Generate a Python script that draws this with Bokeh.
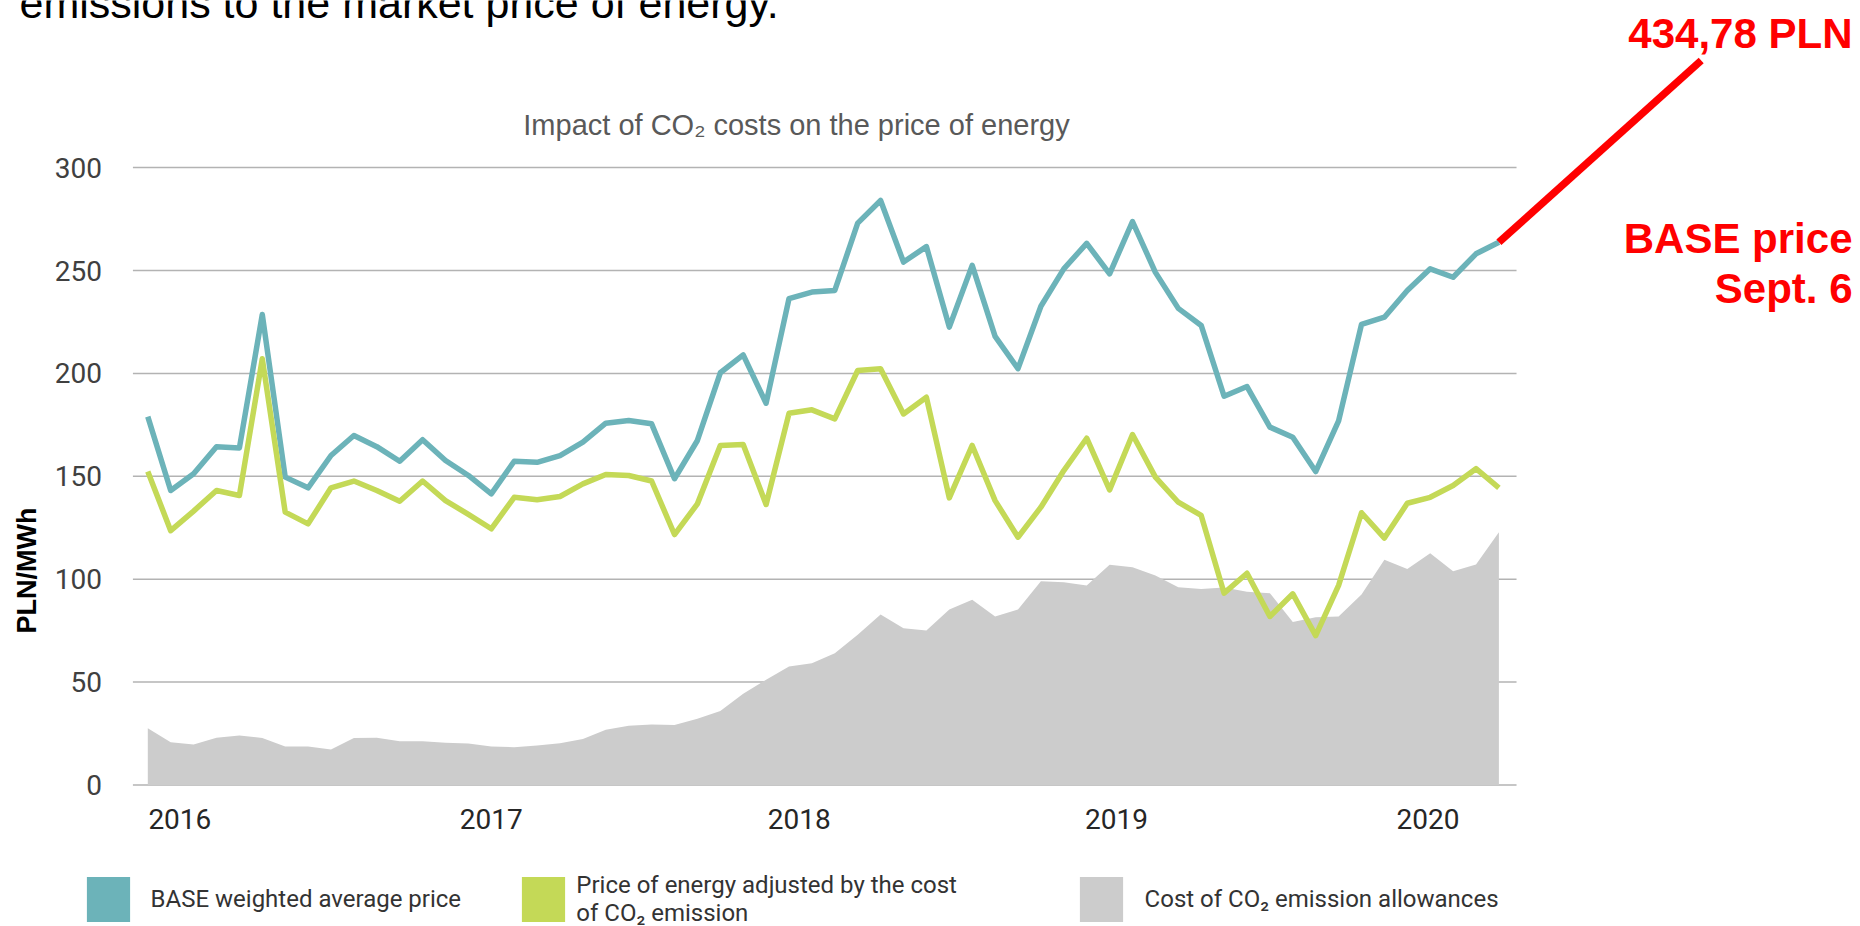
import math
from bokeh.plotting import figure
from bokeh.models import Range1d, FixedTicker, Label, Legend, LegendItem, ColumnDataSource
from bokeh.embed import file_html
from bokeh.resources import INLINE

# ---------------- data ----------------
base_price = [179.0, 143.1, 151.2, 164.4, 163.8, 228.6, 149.6, 144.4, 160.1, 169.8,
              164.4, 157.3, 167.8, 157.7, 150.4, 141.5, 157.3, 156.8, 160.1, 166.6,
              175.8, 177.1, 175.5, 148.8, 167.4, 200.3, 209.0, 185.5, 236.3, 239.5,
              240.3, 273.0, 284.0, 254.1, 261.6, 222.5, 252.5, 218.0, 202.3, 232.6,
              250.8, 263.2, 248.4, 273.8, 249.1, 231.6, 223.3, 188.9, 193.6, 173.9,
              169.0, 152.3, 176.9, 223.8, 227.3, 240.3, 250.8, 246.7, 258.1, 263.7]
adjusted_price = [152.3, 123.6, 133.1, 143.1, 140.7, 207.1, 132.6, 126.9, 144.4, 147.7,
                  143.1, 137.9, 147.7, 138.2, 131.5, 124.5, 139.8, 138.6, 140.2, 146.3,
                  150.9, 150.4, 147.7, 121.7, 136.6, 165.0, 165.5, 136.3, 180.6, 182.3,
                  177.9, 201.4, 202.3, 180.3, 188.4, 139.5, 165.0, 138.2, 120.4, 135.0,
                  152.8, 168.5, 143.4, 170.3, 149.6, 137.4, 131.0, 93.2, 102.9, 81.9,
                  92.9, 72.6, 97.0, 132.3, 120.0, 136.9, 139.8, 145.5, 153.7, 144.4]
co2_cost = [27.6, 20.8, 19.7, 22.9, 24.1, 22.8, 18.7, 18.7, 17.2, 22.8,
            22.9, 21.3, 21.3, 20.5, 20.2, 18.7, 18.4, 19.2, 20.3, 22.4,
            26.8, 28.8, 29.4, 29.2, 32.2, 35.9, 44.3, 51.1, 57.6, 59.2,
            64.0, 73.0, 82.8, 76.2, 75.1, 85.3, 90.0, 81.9, 85.3, 99.0,
            98.5, 96.9, 107.0, 105.8, 101.8, 96.1, 95.2, 96.0, 93.9, 93.2,
            79.2, 81.5, 81.9, 92.6, 109.4, 105.0, 112.6, 103.9, 107.1, 122.8]
year_labels = ["2016", "2017", "2018", "2019", "2020"]
year_tick_pos = [1.4, 15.0, 28.45, 42.3, 55.9]
y_ticks = [0, 50, 100, 150, 200, 250, 300]

series_names = ["BASE weighted average price",
                "Price of energy adjusted by the cost\nof CO\u2082 emission",
                "Cost of CO\u2082 emission allowances"]
chart_title = "Impact of CO\u2082 costs on the price of energy"
heading_text = "emissions to the market price of energy."
y_label = "PLN/MWh"
callout_value = "434,78 PLN"
callout_lines = ["BASE price", "Sept. 6"]

idx = list(range(len(base_price)))

# ---------------- styling / layout ----------------
TEAL = "#6cb3b9"
GREEN = "#c4d957"
GREY = "#cccccc"
RED = "#ff0000"
GRID = "#b3b3b3"

W, H = 1856, 926
PX_IDX = 22.9              # px per data point
PX_VAL = 2.058             # px per PLN/MWh
FIRST_PX = 147.3           # canvas x of the first point
ZERO_PX = 784.5            # canvas y of value 0
X0 = (0 - FIRST_PX) / PX_IDX
X1 = X0 + W / PX_IDX
Y1 = ZERO_PX / PX_VAL
Y0 = Y1 - H / PX_VAL
GRID_START = idx[0] - 0.65
GRID_END = idx[-1] + 0.77


def at(cx, cy):
    """canvas pixel -> data coordinates"""
    return X0 + cx / PX_IDX, Y1 - cy / PX_VAL


p = figure(width=W, height=H, x_range=Range1d(X0, X1), y_range=Range1d(Y0, Y1),
           output_backend="svg", toolbar_location=None,
           min_border_left=0, min_border_right=0, min_border_top=0, min_border_bottom=0)
p.outline_line_color = None
p.xgrid.visible = False
p.ygrid.visible = False
p.background_fill_color = "white"
p.border_fill_color = "white"

# axes (drawn at fixed data locations inside the canvas)
for ax in (p.xaxis[0], p.yaxis[0]):
    ax.axis_line_color = None
    ax.major_tick_line_color = None
    ax.minor_tick_line_color = None
    ax.major_tick_in = 0
    ax.major_tick_out = 0
    ax.minor_tick_in = 0
    ax.minor_tick_out = 0
    ax.major_label_text_font = "Roboto"
    ax.major_label_text_font_size = "28px"

p.yaxis.fixed_location = GRID_START
p.yaxis.ticker = FixedTicker(ticks=y_ticks)
p.yaxis.major_label_standoff = 31
p.yaxis.major_label_text_color = "#404040"

p.xaxis.fixed_location = 0
p.xaxis.ticker = FixedTicker(ticks=year_tick_pos)
p.xaxis.major_label_overrides = {t: l for t, l in zip(year_tick_pos, year_labels)}
p.xaxis.major_label_standoff = 24
p.xaxis.major_label_text_color = "#262626"

# grid lines limited to the plot area
p.segment(x0=[GRID_START] * len(y_ticks), y0=y_ticks, x1=[GRID_END] * len(y_ticks), y1=y_ticks,
          line_color=GRID, line_width=1.5)

# series
r_area = p.varea(x=idx, y1=[0] * len(idx), y2=co2_cost, fill_color=GREY)
p.line(idx, base_price, line_color=TEAL, line_width=5.5, line_join="round")
p.line(idx, adjusted_price, line_color=GREEN, line_width=5.5, line_join="round")

# red callout line to the September price
ax_, ay_ = at(1700.7, 60)
p.line([idx[-1], ax_], [base_price[-1], ay_], line_color=RED, line_width=7.5)


# legend key renderers: zero-height areas (invisible), used only for the colour squares
def key(color):
    return p.varea(x="x", y1="y1", y2="y2", fill_color=color,
                   source=ColumnDataSource(dict(x=idx, y1=[0] * len(idx), y2=[0] * len(idx))))


k_teal = key(TEAL)
k_green = key(GREEN)

GW, GH = 54, 56            # glyph box (area key is drawn inset by 10 %)
legend_specs = [
    (series_names[0], k_teal, 80.6, 16),
    (series_names[1], k_green, 516.3, 6),
    (series_names[2], r_area, 1073.6, 17),
]
for text, rend, cx, standoff in legend_specs:
    top = 871.4
    leg = Legend(items=[LegendItem(label=text, renderers=[rend])],
                 location=(cx, H - (top + GH)), orientation="horizontal",
                 glyph_width=GW, glyph_height=GH, label_standoff=standoff,
                 padding=0, margin=0, spacing=0,
                 border_line_alpha=0, background_fill_alpha=0,
                 label_text_font="Roboto", label_text_font_size="24px",
                 label_text_color="#333333", label_text_line_height=1.2)
    p.add_layout(leg)


# texts
def label(text, cx, cy, size, font="Liberation Sans", color="black", align="left",
          baseline="alphabetic", style="normal", angle=0.0, shift=0.34):
    px = float(size.replace("px", ""))
    x, y = at(cx, cy - (shift * px if baseline == "alphabetic" else 0))
    p.add_layout(Label(x=x, y=y, text=text, text_font=font, text_font_size=size,
                       text_color=color, text_align=align, text_baseline=baseline,
                       text_font_style=style, angle=angle))


label(heading_text, 19, 17, "43px")
label(chart_title, 796, 134, "29px", color="#595959", align="center")
label(y_label, 26, 570, "27px", style="bold", align="center", baseline="middle",
      angle=math.pi / 2)
label(callout_value, 1852, 47, "42px", color=RED, align="right", style="bold")
label(callout_lines[0], 1852, 252, "42px", color=RED, align="right", style="bold")
label(callout_lines[1], 1852, 302, "42px", color=RED, align="right", style="bold")

open("out.html", "w").write(file_html(p, INLINE))
